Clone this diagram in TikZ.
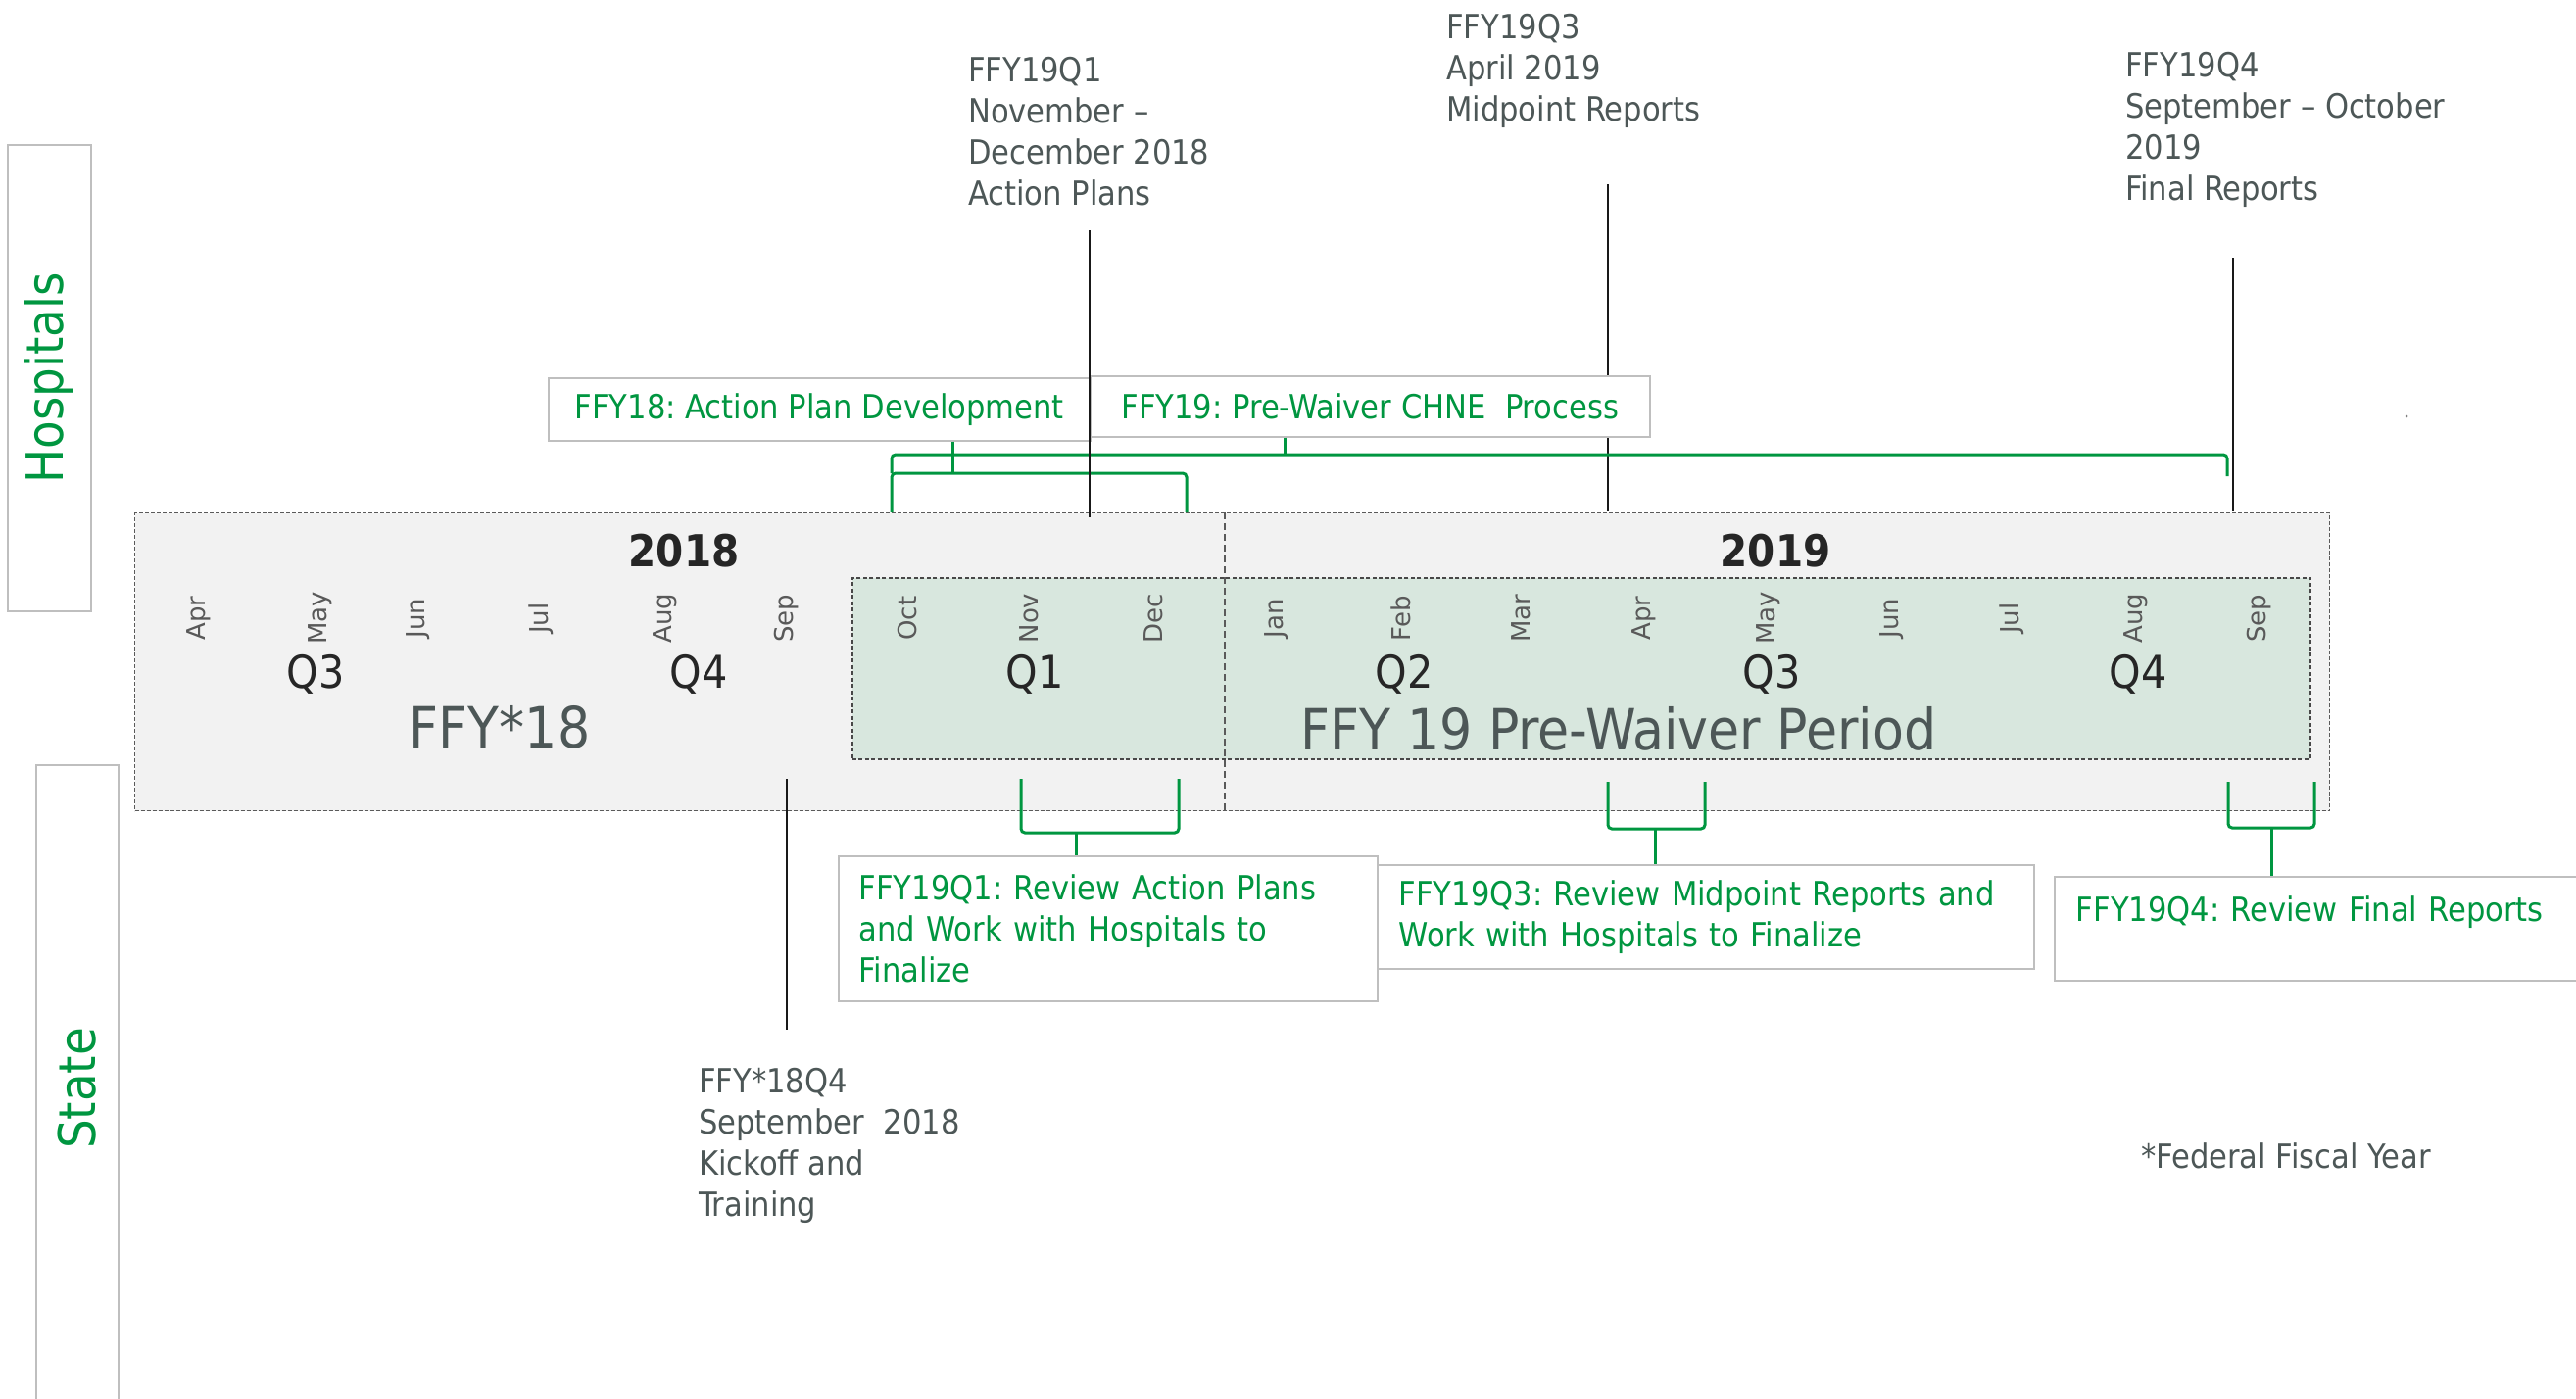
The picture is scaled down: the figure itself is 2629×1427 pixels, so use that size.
\documentclass[tikz,border=0pt]{standalone}
\usepackage{fontspec}
\setmainfont{DejaVu Sans Condensed}
\newfontfamily\wideface{DejaVu Sans}
\newcommand{\mylines}[1]{\begin{tabular}[t]{@{}l@{}}#1\end{tabular}}
\definecolor{hgreen}{RGB}{0,150,64}
\definecolor{anngrey}{RGB}{77,87,87}
\definecolor{boxline}{RGB}{191,191,191}
\definecolor{panelfill}{RGB}{242,242,242}
\definecolor{greenfill}{RGB}{216,231,222}
\definecolor{dashgrey}{RGB}{90,90,90}
\definecolor{qdark}{RGB}{38,38,38}
\definecolor{monthgrey}{RGB}{89,89,89}
\begin{document}
\frenchspacing
\begin{tikzpicture}[x=1pt,y=-1pt,
  lanebox/.style={draw=boxline,line width=1.5pt,fill=white,inner sep=0pt,text=hgreen,font=\fontsize{52}{60}\selectfont},
  panel/.style={draw=dashgrey,fill=panelfill,line width=1.3pt,dash pattern=on 4pt off 2pt,inner sep=0pt},
  gpanel/.style={draw=dashgrey!80!black,fill=greenfill,line width=1.6pt,dash pattern=on 4pt off 2.5pt,inner sep=0pt},
  yearlbl/.style={font=\fontsize{45}{50}\selectfont\bfseries,text=qdark,anchor=base,inner sep=0pt},
  monlbl/.style={font=\wideface\fontsize{26}{30}\selectfont,text=monthgrey,rotate=90,inner sep=0pt},
  qlbl/.style={font=\fontsize{46}{50}\selectfont,text=qdark,anchor=base,inner sep=0pt},
  biglbl/.style={font=\fontsize{58}{64}\selectfont,text=anngrey,anchor=base,inner sep=0pt},
  tbox/.style={draw=boxline,line width=1.5pt,fill=white,text=hgreen,font=\fontsize{34}{42}\selectfont,inner sep=0pt},
  sbox/.style={tbox,align=left,inner xsep=21pt,inner ysep=0pt,anchor=north west},
  ann/.style={text=anngrey,font=\fontsize{34}{42}\selectfont,anchor=base west,inner sep=0pt},
  brk/.style={draw=hgreen,line width=3pt,rounded corners=4pt},
  tick/.style={draw=black!90,line width=2.2pt},
  divider/.style={draw=dashgrey,line width=1.2pt,dash pattern=on 7pt off 4pt}]
\useasboundingbox (0,0) rectangle (2629,1427);

% lanes
\node[lanebox,rotate=90,minimum width=476pt,minimum height=85pt] (hosp) at (50.5,386) {Hospitals};
\node[lanebox,rotate=90,minimum width=660pt,minimum height=84pt] (state) at (79,1111) {State};

% timeline panels
\node[panel,anchor=north west,minimum width=2240pt,minimum height=304pt] (panel) at (137,523) {};
\node[gpanel,anchor=north west,minimum width=1488pt,minimum height=185pt] (gpanel) at (869,589) {};
\draw[divider] (1250,523) -- (1250,827);

\node[yearlbl] (y18) at (698,578) {2018};
\node[yearlbl] (y19) at (1812,578) {2019};

\foreach \m/\x in {Apr/203,May/327,Jun/427,Jul/552,Aug/679,Sep/803,Oct/926,Nov/1050,Dec/1177}
  \node[monlbl] (m18\m) at (\x,631) {\m};
\foreach \m/\x in {Jan/1303,Feb/1430,Mar/1552,Apr/1678,May/1805,Jun/1931,Jul/2053,Aug/2180,Sep/2306}
  \node[monlbl] (m19\m) at (\x,631) {\m};

\node[qlbl] (q18c) at (322,702) {Q3};
\node[qlbl] (q18d) at (713,702) {Q4};
\node[qlbl] (q19a) at (1056,702) {Q1};
\node[qlbl] (q19b) at (1433,702) {Q2};
\node[qlbl] (q19c) at (1808,702) {Q3};
\node[qlbl] (q19d) at (2182,702) {Q4};

\node[biglbl] (ffy18) at (510,763) {FFY*18};
\node[biglbl] (ffy19) at (1652,765) {FFY 19 Pre-Waiver Period};

% top annotations
\node[ann] (a19q1) at (988,83) {\mylines{FFY19Q1\\November –\\December 2018\\Action Plans}};
\node[ann] (a19q3) at (1476,39) {\mylines{FFY19Q3\\April 2019\\Midpoint Reports}};
\node[ann] (a19q4) at (2169,78) {\mylines{FFY19Q4\\September – October\\2019\\Final Reports}};
\node[ann] (a18q4) at (713,1115) {\mylines{FFY*18Q4\\September\ \ 2018\\Kickoff and\\Training}};
\node[ann] (foot) at (2185,1192) {*Federal Fiscal Year};

\coordinate (t1a) at (1112,235); \coordinate (t1b) at (1112,528);
\coordinate (t3a) at (1641,188); \coordinate (t3b) at (1641,522);
\coordinate (t4a) at (2279,263); \coordinate (t4b) at (2279,522);
\coordinate (t0a) at (803,795);  \coordinate (t0b) at (803,1051);

\draw[tick] (t3a) -- (t3b);
\draw[tick] (t4a) -- (t4b);
\draw[tick] (t0a) -- (t0b);

% hospital-side brackets
\draw[brk] (910,483) -- (910,464) -- (2273,464) -- (2273,486);
\draw[brk] (910,523) -- (910,483) -- (1211,483) -- (1211,523);

\node[tbox,anchor=north west,minimum width=553pt,minimum height=64pt] (b18) at (559,385) {FFY18: Action Plan Development};
\node[tbox,anchor=north west,minimum width=571pt,minimum height=62pt] (b19) at (1112,383) {FFY19: Pre-Waiver CHNE\ \ Process};

\draw[hgreen,line width=3pt] (b18.south -| 972,0) -- (972,483);
\draw[hgreen,line width=3pt] (b19.south -| 1311,0) -- (1311,464);
\draw[tick,line width=1.8pt] (t1a) -- (t1b);

% state-side brackets
\draw[brk] (1042,795) -- (1042,850) -- (1203,850) -- (1203,795);
\draw[brk] (1641,798) -- (1641,846) -- (1740,846) -- (1740,798);
\draw[brk] (2274,798) -- (2274,845) -- (2362,845) -- (2362,798);

\node[sbox,text width=508pt,minimum height=148pt] (s19q1) at (855,873)
  {FFY19Q1: Review Action Plans\\and Work with Hospitals to\\Finalize};
\node[sbox,text width=626pt,minimum height=106pt,inner xsep=22pt] (s19q3) at (1405,882)
  {FFY19Q3: Review Midpoint Reports and\\Work with Hospitals to Finalize};
\node[sbox,text width=500pt,inner xsep=22pt,text height=46pt,text depth=60pt] (s19q4) at (2096,894)
  {FFY19Q4: Review Final Reports};

\draw[hgreen,line width=3pt] (1098,850) -- (s19q1.north -| 1098,0);
\draw[hgreen,line width=3pt] (1689,846) -- (s19q3.north -| 1689,0);
\draw[hgreen,line width=3pt] (2318,845) -- (s19q4.north -| 2318,0);

\fill[gray] (2456,425) circle (1.5pt);
\end{tikzpicture}
\end{document}
